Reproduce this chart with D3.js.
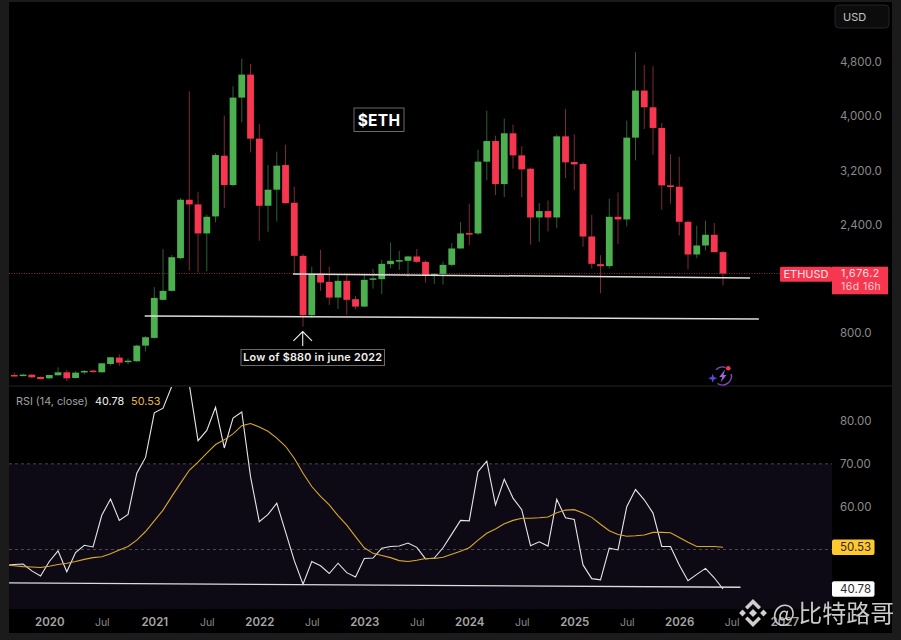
<!DOCTYPE html>
<html>
<head>
<meta charset="utf-8">
<script src="https://cdn.jsdelivr.net/npm/d3@7"></script>
<style>
  html, body { margin: 0; padding: 0; background: #1b1b1b; }
  svg { display: block; font-family: Inter, 'Noto Sans', sans-serif; filter: blur(0.3px); }
</style>
</head>
<body>
<div id="chart"></div>
<script>
// monthly candles, first one is Sep 2019
const opens = [
  177, 173, 182, 148,
  128, 173, 217, 133, 217, 242, 217, 340, 434, 370, 380, 611,
  725, 1287, 1420, 1903, 2766, 2697, 2268, 2519, 3416, 2982, 4274, 4614,
  3668, 2677, 2914, 3278, 2721, 1937, 1060, 1671, 1553, 1321, 1568, 1297,
  1188, 1583, 1592, 1814, 1864, 1864, 1928, 1849, 1652, 1671, 1804, 2046,
  2273, 2268, 3328, 3633, 2997, 3747, 3421, 3224, 2504, 2598, 2504, 3702,
  3323, 3293, 2223, 1814, 1785, 2514, 2475, 3683, 4378, 4131, 3826, 2978,
  2958, 2440, 1957, 2090, 2248, 1992
]
const closes = [
  168, 183, 143, 118,
  177, 217, 128, 212, 237, 232, 350, 439, 360, 389, 611, 735,
  1316, 1420, 1917, 2766, 2697, 2268, 2514, 3426, 2982, 4274, 4614, 3668,
  2677, 2914, 3269, 2716, 1937, 1060, 1671, 1543, 1321, 1568, 1287, 1188,
  1583, 1605, 1819, 1864, 1874, 1928, 1849, 1647, 1671, 1804, 2046, 2268,
  2268, 3328, 3633, 2997, 3747, 3421, 3214, 2504, 2598, 2504, 3702, 3318,
  3288, 2223, 1819, 1785, 2514, 2475, 3683, 4378, 4131, 3826, 2978, 2953,
  2440, 1957, 2090, 2248, 1992, 1676
]
const highs = [
  217, 198, 190, 154,
  180, 291, 251, 232, 250, 256, 350, 446, 483, 424, 623, 754,
  1476, 2036, 1950, 2790, 4368, 2884, 2544, 3455, 4008, 4442, 4851, 4772,
  3885, 3278, 3476, 3579, 2958, 1967, 1780, 2026, 1780, 1652, 1681, 1346,
  1666, 1745, 1878, 2135, 2011, 1940, 2036, 1870, 1681, 1854, 2125, 2440,
  2707, 3505, 4082, 3712, 3964, 3875, 3555, 3240, 2716, 2756, 3727, 4107,
  3732, 3318, 2544, 1947, 2781, 2874, 3934, 4945, 4757, 4738, 3900, 3436,
  3397, 2460, 2381, 2455, 2421, 2011
]
const lows = [
  155, 160, 130, 112,
  122, 170, 89, 125, 187, 215, 215, 317, 311, 335, 372, 527,
  712, 1280, 1410, 1885, 1720, 1690, 1710, 2430, 2642, 2963, 3909, 3466,
  2159, 2292, 2445, 2708, 1681, 892, 1015, 1420, 1213, 1154, 1065, 1149,
  1180, 1454, 1371, 1755, 1730, 1622, 1829, 1543, 1523, 1513, 1780, 2041,
  2095, 2243, 3052, 2835, 2805, 3224, 2805, 2105, 2144, 2297, 2351, 3086,
  2909, 2071, 1750, 1385, 1750, 2110, 2371, 3347, 3811, 3431, 2618, 2707,
  2238, 1740, 1903, 2016, 1985, 1499
]

// rsi arrays start one month before the candles (Aug 2019)
const rsiValues = [
  46.3, 46.5, 46.6, 45, 43.8,
  47.2, 49.7, 44.8, 49.3, 51, 50.6, 58, 61.8, 56.8, 58.2, 67.8, 71.5,
  81.9, 83, 88.1, 93, 88.5, 75.4, 77.8, 83.2, 73.7, 80.7, 82.1, 67,
  56.5, 58.2, 60.8, 54.1, 47.4, 41.9, 47.2, 46.2, 44.4, 46.8, 44.6, 43.6,
  47.9, 48, 50.3, 50.7, 50.8, 51.5, 50.5, 47.8, 48, 50.4, 53.6, 56.8,
  56.7, 68.2, 70.6, 60.4, 66.4, 62, 59.3, 50.9, 51.8, 50.8, 61.7, 57.4,
  57, 46.4, 43.2, 42.9, 50.3, 49.9, 60, 64, 61.6, 58.5, 50.7, 50.7,
  46.4, 42.7, 44.2, 45.6, 43.4, 40.78
]
const rsiAverage = [
  46.4, 46.2, 46, 45.9, 45.8,
  46.1, 46.5, 46.8, 47.2, 47.7, 48.1, 48.3, 49, 49.9, 50.7, 52.2, 54.2,
  56.7, 59.2, 62.4, 65.5, 68.5, 70.4, 72.5, 74.5, 75.6, 77, 78.9, 79.4,
  78.6, 77.6, 76, 74.1, 71.3, 67.8, 64.7, 62.4, 60.4, 57.9, 55.7, 53,
  50.4, 49.1, 48.6, 48.1, 47.4, 47.2, 47.5, 47.9, 47.9, 48.2, 48.9, 49.6,
  50.4, 52.2, 53.8, 54.8, 56, 56.8, 57.3, 57.3, 57.4, 57.6, 58.6, 59.2,
  59.3, 58.5, 57.5, 55.9, 54.4, 53.5, 53.1, 53.2, 53.4, 54, 54, 53.9,
  52.8, 51.7, 50.7, 50.7, 50.7, 50.53
]

const priceTicks = [800, 2400, 3200, 4000, 4800]
const rsiTicks = [60, 70, 80]
const monthTicks = [4, 10, 16, 22, 28, 34, 40, 46, 52, 58, 64, 70, 76, 82, 88]
const monthLabels = ['2020', 'Jul', '2021', 'Jul', '2022', 'Jul', '2023', 'Jul', '2024', 'Jul', '2025', 'Jul', '2026', 'Jul', '2027']

// drawn support lines: month index and value at both ends
const upperSupport = [[31.85, 1669], [84.1, 1610]]
const lowerSupport = [[14.9, 1050], [85.1, 1005]]
const rsiSupport = [[-0.6, 42.2], [83, 41.2]]

const lastPrice = 1676.2
const lastRsi = 40.78
const lastAverage = 50.53

const width = 901
const height = 640
const left = 9
const right = 892
const plotRight = 832
const pricePaneBottom = 386
const rsiPaneBottom = 609
const bottom = 633

const red = '#f7374f'
const green = '#4caf50'
const redWick = '#7c2b36'
const greenWick = '#2c5f34'
const labelColor = '#8b8b8b'

const x = d3.scaleLinear().domain([0, 81]).range([14.3, 723])
const y = d3.scaleLinear().domain([0, 4800]).range([387, 62])
const rsiY = d3.scaleLinear().domain([50, 80]).range([549.5, 421])

const svg = d3
  .select('#chart')
  .append('svg')
  .attr('width', width)
  .attr('height', height)

const defs = svg.append('defs')
defs
  .append('clipPath')
  .attr('id', 'price-clip')
  .append('rect')
  .attr('x', left)
  .attr('y', 2)
  .attr('width', plotRight - left)
  .attr('height', pricePaneBottom - 2)
defs
  .append('clipPath')
  .attr('id', 'rsi-clip')
  .append('rect')
  .attr('x', left)
  .attr('y', pricePaneBottom + 1)
  .attr('width', plotRight - left)
  .attr('height', rsiPaneBottom - pricePaneBottom - 1)

// frame
svg
  .append('rect')
  .attr('x', left)
  .attr('y', 2)
  .attr('width', right - left)
  .attr('height', bottom - 2)
  .attr('fill', '#000')

svg
  .append('line')
  .attr('x1', left)
  .attr('x2', right)
  .attr('y1', pricePaneBottom)
  .attr('y2', pricePaneBottom)
  .attr('stroke', '#232323')

// price pane
const pricePane = svg.append('g').attr('clip-path', 'url(#price-clip)')

pricePane
  .append('line')
  .attr('x1', left)
  .attr('x2', 780)
  .attr('y1', y(lastPrice))
  .attr('y2', y(lastPrice))
  .attr('stroke', '#8f2b38')
  .attr('stroke-dasharray', '1,1.5')

const candles = pricePane
  .selectAll('.candle')
  .data(opens.map((d, i) => i))
  .enter()
  .append('g')
  .attr('class', 'candle')

candles
  .append('line')
  .attr('x1', d => x(d))
  .attr('x2', d => x(d))
  .attr('y1', d => y(highs[d]))
  .attr('y2', d => y(lows[d]))
  .attr('stroke', d => (closes[d] >= opens[d] ? greenWick : redWick))

candles
  .append('rect')
  .attr('x', d => x(d) - 3.4)
  .attr('width', 6.8)
  .attr('y', d => y(Math.max(opens[d], closes[d])))
  .attr('height', d => Math.max(1.5, Math.abs(y(opens[d]) - y(closes[d]))))
  .attr('fill', d => (closes[d] >= opens[d] ? green : red))

const priceLine = d3
  .line()
  .x(d => x(d[0]))
  .y(d => y(d[1]))

;[upperSupport, lowerSupport].forEach(d => {
  svg
    .append('path')
    .attr('d', priceLine(d))
    .attr('fill', 'none')
    .attr('stroke', '#dcdcdc')
    .attr('stroke-width', 1.5)
})

// annotations
svg
  .append('rect')
  .attr('x', 354)
  .attr('y', 108)
  .attr('width', 50)
  .attr('height', 23.5)
  .attr('fill', '#000')
  .attr('stroke', '#6a6a6a')
svg
  .append('text')
  .attr('x', 379)
  .attr('y', 125.5)
  .attr('text-anchor', 'middle')
  .attr('font-size', 15.5)
  .attr('font-weight', 700)
  .attr('letter-spacing', 0.3)
  .attr('fill', '#fff')
  .text('$ETH')

svg
  .append('path')
  .attr('d', 'M302.7,346 V331.5 M293.4,340.8 L302.7,331.5 L312,340.8')
  .attr('fill', 'none')
  .attr('stroke', '#f0f0f0')
  .attr('stroke-width', 1.1)
svg
  .append('rect')
  .attr('x', 241)
  .attr('y', 349.5)
  .attr('width', 143.5)
  .attr('height', 16)
  .attr('fill', '#000')
  .attr('stroke', '#6a6a6a')
svg
  .append('text')
  .attr('x', 312.7)
  .attr('y', 361.3)
  .attr('text-anchor', 'middle')
  .attr('font-size', 10.8)
  .attr('font-weight', 600)
  .attr('letter-spacing', 0.25)
  .attr('fill', '#f2f2f2')
  .text('Low of $880 in june 2022')

// small assistant icon above the pane border
const icon = svg.append('g').attr('transform', 'translate(722.5,376)')
icon
  .append('path')
  .attr('d', 'M-6.5,-6.2 A9,9 0 0,1 3,-8.5 M8.7,-2 A9,9 0 0,1 -5,7.5')
  .attr('fill', 'none')
  .attr('stroke', '#7d49bb')
  .attr('stroke-width', 1.4)
icon.append('path').attr('d', 'M2.5,-6.5 L-3.2,1 L-0.2,1 L-2,6.5 L4,-1 L1,-1 Z').attr('fill', '#a463e0')
icon.append('circle').attr('cx', 5.8).attr('cy', -7.7).attr('r', 2.3).attr('fill', '#ef3c4c')
icon.append('path').attr('d', 'M-9.8,-2.2 L-8.6,1 L-5.3,2.3 L-8.6,3.6 L-9.8,6.8 L-11,3.6 L-14.3,2.3 L-11,1 Z').attr('fill', '#5a47e0')

// price axis
svg
  .append('g')
  .attr('transform', 'translate(840,0)')
  .call(
    d3
      .axisRight(y)
      .tickValues(priceTicks)
      .tickSize(0)
      .tickPadding(0)
      .tickFormat(d3.format(',.1f'))
  )
  .call(g => g.select('.domain').remove())
  .call(g =>
    g
      .selectAll('text')
      .attr('font-family', 'Inter, sans-serif')
      .attr('font-size', 11.5)
      .attr('fill', labelColor)
  )

svg
  .append('rect')
  .attr('x', 835)
  .attr('y', 5)
  .attr('width', 54)
  .attr('height', 23)
  .attr('rx', 4)
  .attr('fill', '#0c0c0c')
  .attr('stroke', '#242424')
svg
  .append('text')
  .attr('x', 843)
  .attr('y', 20.5)
  .attr('font-size', 11)
  .attr('fill', '#c4c4c4')
  .text('USD')

// last price tags
svg
  .append('rect')
  .attr('x', 780)
  .attr('y', 266.7)
  .attr('width', 52)
  .attr('height', 15)
  .attr('rx', 1.5)
  .attr('fill', red)
svg
  .append('text')
  .attr('x', 806)
  .attr('y', 278.3)
  .attr('text-anchor', 'middle')
  .attr('font-size', 11)
  .attr('fill', '#ffe3e6')
  .text('ETHUSD')
svg
  .append('rect')
  .attr('x', 832)
  .attr('y', 266.7)
  .attr('width', 56)
  .attr('height', 27.6)
  .attr('fill', red)
svg
  .append('text')
  .attr('x', 841)
  .attr('y', 276.8)
  .attr('font-size', 10.6)
  .attr('letter-spacing', 0.5)
  .attr('fill', '#ffe3e6')
  .text(d3.format(',.1f')(lastPrice))
svg
  .append('text')
  .attr('x', 841)
  .attr('y', 290)
  .attr('font-size', 10.4)
  .attr('letter-spacing', 0.5)
  .attr('fill', '#ffd0d5')
  .text('16d 16h')

// rsi pane
svg
  .append('rect')
  .attr('clip-path', 'url(#rsi-clip)')
  .attr('x', left)
  .attr('width', plotRight - left)
  .attr('y', rsiY(70))
  .attr('height', rsiY(30) - rsiY(70))
  .attr('fill', '#0d0a16')

const rsiPane = svg.append('g').attr('clip-path', 'url(#rsi-clip)')

;[70, 50].forEach(d => {
  rsiPane
    .append('line')
    .attr('x1', left)
    .attr('x2', plotRight)
    .attr('y1', rsiY(d))
    .attr('y2', rsiY(d))
    .attr('stroke', '#5a5a5f')
    .attr('stroke-dasharray', '3,3')
    .attr('stroke-width', 0.8)
})

const rsiLine = d3
  .line()
  .x((d, i) => x(i - 1))
  .y(d => rsiY(d))

rsiPane
  .append('path')
  .attr('d', rsiLine(rsiValues))
  .attr('fill', 'none')
  .attr('stroke', '#e6e6e6')
  .attr('stroke-width', 1.1)

rsiPane
  .append('path')
  .attr('d', rsiLine(rsiAverage))
  .attr('fill', 'none')
  .attr('stroke', '#d9a72e')
  .attr('stroke-width', 1.1)

rsiPane
  .append('path')
  .attr(
    'd',
    d3
      .line()
      .x(d => x(d[0]))
      .y(d => rsiY(d[1]))(rsiSupport)
  )
  .attr('fill', 'none')
  .attr('stroke', '#dcdcdc')
  .attr('stroke-width', 1.4)

const rsiLegend = svg.append('text').attr('x', 16).attr('y', 405).attr('font-size', 10.8)
rsiLegend.append('tspan').attr('fill', '#a2a2a2').text('RSI (14, close)')
rsiLegend.append('tspan').attr('dx', 7).attr('fill', '#f0f0f0').text(lastRsi)
rsiLegend.append('tspan').attr('dx', 7).attr('fill', '#e8b949').text(lastAverage)

svg
  .append('g')
  .attr('transform', 'translate(840,0)')
  .call(
    d3
      .axisRight(rsiY)
      .tickValues(rsiTicks)
      .tickSize(0)
      .tickPadding(0)
      .tickFormat(d3.format('.2f'))
  )
  .call(g => g.select('.domain').remove())
  .call(g =>
    g
      .selectAll('text')
      .attr('font-family', 'Inter, sans-serif')
      .attr('font-size', 11.5)
      .attr('fill', labelColor)
  )

// rsi value tags
const tags = [
  { value: lastAverage, fill: '#ffc92e' },
  { value: lastRsi, fill: '#fff' }
]
tags.forEach(d => {
  svg
    .append('rect')
    .attr('x', 832)
    .attr('y', rsiY(d.value) - 7.8)
    .attr('width', 42.5)
    .attr('height', 15.6)
    .attr('rx', 2)
    .attr('fill', d.fill)
  svg
    .append('text')
    .attr('x', 840)
    .attr('y', rsiY(d.value) + 4.2)
    .attr('font-size', 11.5)
    .attr('fill', '#2a2a2a')
    .text(d3.format('.2f')(d.value))
})

// time axis
svg
  .append('g')
  .attr('transform', 'translate(0,622)')
  .call(
    d3
      .axisBottom(x)
      .tickValues(monthTicks)
      .tickSize(0)
      .tickPadding(0)
      .tickFormat((d, i) => monthLabels[i])
  )
  .call(g => g.select('.domain').remove())
  .call(g =>
    g
      .selectAll('text')
      .attr('dy', '0.35em')
      .attr('font-family', 'Inter, sans-serif')
      .attr('font-size', (d, i) => (monthLabels[i] === 'Jul' ? 10.5 : 11.5))
      .attr('font-weight', (d, i) => (monthLabels[i] === 'Jul' ? 400 : 600))
      .attr('fill', (d, i) => (monthLabels[i] === 'Jul' ? labelColor : '#a6a6a6'))
  )

// watermark
const mark = svg
  .append('g')
  .attr('transform', 'translate(753,613)')
  .attr('fill', '#cfcfcf')
mark.append('path').attr('d', 'M0,-14 L8,-6 L5.5,-3.5 L0,-9 L-5.5,-3.5 L-8,-6 Z')
mark.append('path').attr('d', 'M0,14 L8,6 L5.5,3.5 L0,9 L-5.5,3.5 L-8,6 Z')
mark.append('path').attr('d', 'M0,-4 L4,0 L0,4 L-4,0 Z')
mark.append('path').attr('d', 'M-10.5,-3.4 L-7.1,0 L-10.5,3.4 L-13.9,0 Z')
mark.append('path').attr('d', 'M10.5,-3.4 L13.9,0 L10.5,3.4 L7.1,0 Z')

const markText = svg
  .append('text')
  .attr('x', 772.5)
  .attr('y', 622)
  .attr('font-family', "'Noto Sans CJK SC', sans-serif")
  .attr('font-size', 24)
  .attr('fill', '#cacaca')
markText.append('tspan').text('@')
markText.append('tspan').attr('dx', 3).text('比特路哥')
</script>
</body>
</html>
